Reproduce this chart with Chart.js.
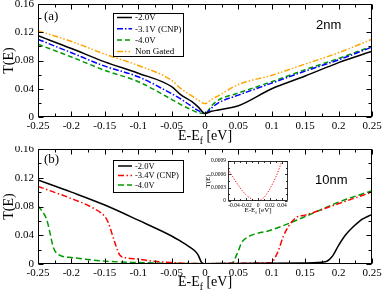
<!DOCTYPE html>
<html>
<head>
<meta charset="utf-8">
<script src="https://cdn.jsdelivr.net/npm/chart.js@4.4.1/dist/chart.umd.min.js"></script>
<style>
  html, body { margin: 0; padding: 0; background: #fff; }
  #wrap { position: relative; width: 382px; height: 293px; overflow: hidden; }
  canvas { position: absolute; }
  #chart-a { left: 0; top: 0; }
  #chart-b { left: 0; top: 146px; }
  #chart-inset { left: 200px; top: 156px; }
</style>
</head>
<body>
<div id="wrap">
  <canvas id="chart-a" width="382" height="146"></canvas>
  <canvas id="chart-b" width="382" height="147"></canvas>
  <canvas id="chart-inset" width="92" height="64"></canvas>
</div>
<script>
// ---- data: panel (a), 2nm ----
const energyA = [-0.25, -0.2, -0.15, -0.1, -0.05, -0.037, -0.02, -0.01, 0, 0.01, 0.02, 0.05, 0.1, 0.15, 0.2, 0.25];
const tA_20V   = [0.115, 0.097, 0.078, 0.062, 0.043, 0.032, 0.022, 0.014, 0.005, 0.008, 0.010, 0.016, 0.040, 0.058, 0.077, 0.093];
const tA_31V   = [0.110, 0.091, 0.072, 0.057, 0.033, 0.026, 0.015, 0.009, 0.005, 0.013, 0.020, 0.031, 0.048, 0.065, 0.081, 0.099];
const tA_40V   = [0.103, 0.085, 0.066, 0.050, 0.025, 0.018, 0.010, 0.006, 0.005, 0.016, 0.024, 0.034, 0.050, 0.067, 0.083, 0.100];
const tA_noGate = [0.122, 0.107, 0.089, 0.073, 0.052, 0.041, 0.030, 0.024, 0.019, 0.025, 0.030, 0.046, 0.059, 0.075, 0.091, 0.110];
const labelsA = ['-2.0V', '-3.1V (CNP)', '-4.0V', 'Non Gated'];

// ---- data: panel (b), 10nm ----
const eB_20V = [-0.25, -0.2, -0.15, -0.1, -0.05, -0.037, -0.025, -0.015, -0.01, -0.005, 0, 0.05, 0.1, 0.15, 0.18, 0.19, 0.2, 0.21, 0.22, 0.235, 0.25];
const tB_20V = [0.117, 0.100, 0.082, 0.061, 0.039, 0.032, 0.025, 0.018, 0.012, 0.002, 0.0005, 0.0008, 0.001, 0.0015, 0.003, 0.010, 0.026, 0.040, 0.050, 0.062, 0.069];
const eB_34V = [-0.25, -0.2, -0.17, -0.15, -0.145, -0.135, -0.128, -0.12, -0.1, -0.08, -0.05, 0, 0.05, 0.1, 0.102, 0.11, 0.117, 0.127, 0.137, 0.15, 0.2, 0.25];
const tB_34V = [0.108, 0.091, 0.079, 0.066, 0.058, 0.030, 0.013, 0.009, 0.007, 0.004, 0.002, 0.0005, 0.001, 0.002, 0.004, 0.019, 0.038, 0.055, 0.065, 0.068, 0.084, 0.100];
const eB_40V = [-0.25, -0.245, -0.237, -0.232, -0.227, -0.217, -0.2, -0.15, -0.1, -0.05, 0, 0.04, 0.048, 0.055, 0.063, 0.08, 0.095, 0.15, 0.2, 0.25];
const tB_40V = [0.081, 0.075, 0.062, 0.043, 0.023, 0.012, 0.009, 0.004, 0.002, 0.001, 0.0005, 0.001, 0.014, 0.030, 0.037, 0.043, 0.046, 0.066, 0.086, 0.102];
const labelsB = ['-2.0V', '-3.4V (CNP)', '-4.0V'];

// ---- data: inset of (b), CNP curve near E_f ----
const eInset = [-0.05, -0.04, -0.03, -0.02, -0.01, -0.005, 0, 0.01, 0.02, 0.03, 0.04];
const tInset = [0.00072, 0.0005, 0.0003, 0.00014, 0.00004, 0.00001, 0.00001, 0.00008, 0.00028, 0.00055, 0.0009];

// ---- tick values ----
const xTicksMain = [-0.25, -0.2, -0.15, -0.1, -0.05, 0, 0.05, 0.1, 0.15, 0.2, 0.25];
const yTicksMain = [0, 0.04, 0.08, 0.12, 0.16];
const xTicksInset = [-0.04, -0.02, 0, 0.02, 0.04];
const yTicksInset = [0, 0.0003, 0.0006, 0.0009];

const SERIF = 'Liberation Serif';

function pts(xs, ys) {
    return xs.map((x, i) => ({ x: x, y: ys[i] }));
}

function fmt(v) {
    return parseFloat(Number(v).toFixed(5)).toString();
}

// subscripted axis title "E-E_f [eV]"
function drawXTitle(ctx, cx, y, size) {
    const main = size + 'px "' + SERIF + '"';
    const sub = (size * 0.68).toFixed(1) + 'px "' + SERIF + '"';
    ctx.font = main;
    const w1 = ctx.measureText('E-E').width;
    const w3 = ctx.measureText(' [eV]').width;
    ctx.font = sub;
    const w2 = ctx.measureText('f').width;
    let x = cx - (w1 + w2 + w3) / 2;
    ctx.textAlign = 'left';
    ctx.textBaseline = 'alphabetic';
    ctx.font = main; ctx.fillText('E-E', x, y); x += w1;
    ctx.font = sub; ctx.fillText('f', x, y + size * 0.3); x += w2;
    ctx.font = main; ctx.fillText(' [eV]', x, y);
}

// frame box, inward ticks on all four sides, axis titles, free texts
const framePlugin = {
    id: 'frame',
    afterDraw(chart, args, o) {
        if (!o || !o.titleSize) return;
        const ctx = chart.ctx;
        const a = chart.chartArea;
        const xs = chart.scales.x, ys = chart.scales.y;
        ctx.save();
        ctx.strokeStyle = '#000';
        ctx.fillStyle = '#000';
        ctx.lineWidth = o.lineWidth;

        const L = Math.round(a.left) + 0.5, R = Math.round(a.right) - 0.5;
        const T = Math.round(a.top) + 0.5, B = Math.round(a.bottom) - 0.5;

        const minors = (vals) => {
            const out = [];
            for (let i = 0; i < vals.length - 1; i++) out.push((vals[i] + vals[i + 1]) / 2);
            return out;
        };
        const xMaj = xs.ticks.map(t => t.value), yMaj = ys.ticks.map(t => t.value);

        ctx.beginPath();
        const xt = (v, len) => {
            const p = Math.round(xs.getPixelForValue(v)) + 0.5;
            ctx.moveTo(p, B); ctx.lineTo(p, B - len);
            ctx.moveTo(p, T); ctx.lineTo(p, T + len);
        };
        const yt = (v, len) => {
            const p = Math.round(ys.getPixelForValue(v)) + 0.5;
            ctx.moveTo(L, p); ctx.lineTo(L + len, p);
            ctx.moveTo(R, p); ctx.lineTo(R - len, p);
        };
        xMaj.forEach(v => xt(v, o.major));
        minors(xMaj).forEach(v => xt(v, o.minor));
        yMaj.forEach(v => yt(v, o.major));
        minors(yMaj).forEach(v => yt(v, o.minor));
        ctx.stroke();
        ctx.strokeRect(L, T, R - L, B - T);

        // axis titles
        drawXTitle(ctx, (a.left + a.right) / 2, o.xTitleY, o.titleSize);
        ctx.save();
        ctx.translate(o.yTitleX, (a.top + a.bottom) / 2);
        ctx.rotate(-Math.PI / 2);
        ctx.font = o.titleSize + 'px "' + SERIF + '"';
        ctx.textAlign = 'center';
        ctx.textBaseline = 'middle';
        ctx.fillText('T(E)', 0, 0);
        ctx.restore();

        (o.texts || []).forEach(t => {
            ctx.font = t.font;
            ctx.textAlign = 'left';
            ctx.textBaseline = 'alphabetic';
            ctx.fillText(t.text, t.x, t.y);
        });
        ctx.restore();
    }
};

// legend box drawn inside the plot area
const boxLegendPlugin = {
    id: 'boxLegend',
    afterDraw(chart, args, o) {
        if (!o || !o.show) return;
        const ctx = chart.ctx;
        ctx.save();
        ctx.fillStyle = '#fff';
        ctx.fillRect(o.x, o.y, o.w, o.h);
        ctx.strokeStyle = '#000';
        ctx.lineWidth = 1;
        ctx.strokeRect(o.x + 0.5, o.y + 0.5, o.w, o.h);
        chart.data.datasets.forEach((ds, i) => {
            const yc = o.y + o.first + i * o.step;
            ctx.strokeStyle = ds.borderColor;
            ctx.lineWidth = ds.borderWidth;
            ctx.setLineDash(ds.borderDash || []);
            ctx.beginPath();
            ctx.moveTo(o.x + o.s0, yc);
            ctx.lineTo(o.x + o.s1, yc);
            ctx.stroke();
            ctx.setLineDash([]);
            ctx.fillStyle = '#000';
            ctx.font = o.fontSize + 'px "' + SERIF + '"';
            ctx.textAlign = 'left';
            ctx.textBaseline = 'middle';
            ctx.fillText(ds.label, o.x + o.tx, yc + 0.5);
        });
        ctx.restore();
    }
};

Chart.register(framePlugin, boxLegendPlugin);

function line(label, data, color, dash, width) {
    return {
        label: label,
        data: data,
        borderColor: color,
        borderWidth: width || 1.5,
        borderDash: dash,
        pointRadius: 0,
        fill: false,
        cubicInterpolationMode: 'monotone'
    };
}

function makeOptions(cfg) {
    return {
        responsive: false,
        animation: false,
        devicePixelRatio: 1,
        layout: { padding: { left: 0, right: cfg.padRight, top: cfg.padTop, bottom: 0 } },
        scales: {
            x: {
                type: 'linear',
                min: cfg.xMin, max: cfg.xMax,
                afterBuildTicks: s => { s.ticks = cfg.xTicks.map(v => ({ value: v })); },
                afterFit: s => { s.height = cfg.xHeight; s.paddingLeft = 0; s.paddingRight = 0; },
                grid: { display: false, drawTicks: false },
                border: { display: false },
                ticks: {
                    autoSkip: false, maxRotation: 0, padding: cfg.xPad,
                    color: '#000', font: { family: SERIF, size: cfg.tickSize },
                    callback: v => fmt(v)
                }
            },
            y: {
                type: 'linear',
                min: cfg.yMin, max: cfg.yMax,
                afterBuildTicks: s => { s.ticks = cfg.yTicks.map(v => ({ value: v })); },
                afterFit: s => { s.width = cfg.yWidth; s.paddingTop = 0; s.paddingBottom = 0; },
                grid: { display: false, drawTicks: false },
                border: { display: false },
                ticks: {
                    autoSkip: false, padding: cfg.yPad,
                    color: '#000', font: { family: SERIF, size: cfg.tickSize },
                    callback: v => fmt(v)
                }
            }
        },
        plugins: {
            legend: { display: false },
            tooltip: { enabled: false },
            frame: cfg.frame,
            boxLegend: cfg.legend
        }
    };
}

// panel (a)
new Chart(document.getElementById('chart-a'), {
    type: 'line',
    data: {
        datasets: [
            line(labelsA[0], pts(energyA, tA_20V), '#000000', []),
            line(labelsA[1], pts(energyA, tA_31V), '#0000ff', [6, 2, 1.5, 2]),
            line(labelsA[2], pts(energyA, tA_40V), '#009a00', [5, 3]),
            line(labelsA[3], pts(energyA, tA_noGate), '#ffa500', [6, 2, 1.5, 2, 1.5, 2])
        ]
    },
    options: makeOptions({
        padRight: 10, padTop: 4, xHeight: 29, yWidth: 38, xPad: 3, yPad: 4, tickSize: 11,
        xMin: -0.25, xMax: 0.25, yMin: 0, yMax: 0.16,
        xTicks: xTicksMain, yTicks: yTicksMain,
        frame: {
            lineWidth: 1, major: 5, minor: 3, titleSize: 14, xTitleY: 140, yTitleX: 9,
            texts: [
                { text: '(a)', x: 44, y: 20, font: '13px "' + SERIF + '"' },
                { text: '2nm', x: 316, y: 29, font: '13px "Liberation Sans"' }
            ]
        },
        legend: { show: true, x: 113, y: 13, w: 70, h: 43, first: 4.5, step: 11.3, s0: 4, s1: 19, tx: 22, fontSize: 9 }
    })
});

// panel (b)
new Chart(document.getElementById('chart-b'), {
    type: 'line',
    data: {
        datasets: [
            line(labelsB[0], pts(eB_20V, tB_20V), '#000000', []),
            line(labelsB[1], pts(eB_34V, tB_34V), '#ff0000', [6, 2.5, 1.5, 2.5]),
            line(labelsB[2], pts(eB_40V, tB_40V), '#009a00', [6, 3])
        ]
    },
    options: makeOptions({
        padRight: 10, padTop: 3, xHeight: 29, yWidth: 38, xPad: 3, yPad: 4, tickSize: 11,
        xMin: -0.25, xMax: 0.25, yMin: 0, yMax: 0.16,
        xTicks: xTicksMain, yTicks: yTicksMain,
        frame: {
            lineWidth: 1, major: 5, minor: 3, titleSize: 14, xTitleY: 140, yTitleX: 9,
            texts: [
                { text: '(b)', x: 44, y: 17, font: '13px "' + SERIF + '"' },
                { text: '10nm', x: 315, y: 38, font: '13px "Liberation Sans"' }
            ]
        },
        legend: { show: true, x: 113, y: 14, w: 70, h: 32, first: 6, step: 9.5, s0: 5, s1: 19, tx: 22, fontSize: 8.5 }
    })
});

// inset of (b)
new Chart(document.getElementById('chart-inset'), {
    type: 'line',
    data: {
        datasets: [
            line('-3.4V (CNP)', pts(eInset, tInset), '#ff0000', [1.2, 1.6], 1)
        ]
    },
    options: makeOptions({
        padRight: 4, padTop: 5, xHeight: 19, yWidth: 28, xPad: 1, yPad: 2, tickSize: 5.5,
        xMin: -0.05, xMax: 0.05, yMin: 0, yMax: 0.0009,
        xTicks: xTicksInset, yTicks: yTicksInset,
        frame: { lineWidth: 0.8, major: 2.5, minor: 1.5, titleSize: 7, xTitleY: 56, yTitleX: 8, texts: [] },
        legend: { show: false }
    })
});
</script>
</body>
</html>
